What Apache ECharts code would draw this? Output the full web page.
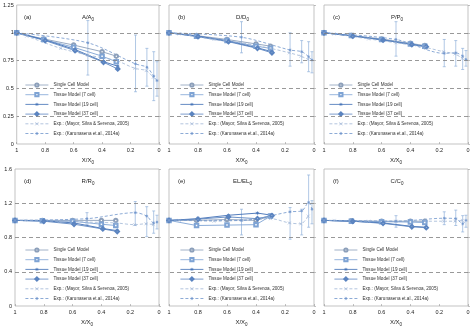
<!DOCTYPE html>
<html>
<head>
<meta charset="utf-8">
<script src="https://cdn.jsdelivr.net/npm/echarts@6/dist/echarts.min.js"></script>
<style>
html, body { margin: 0; padding: 0; background: #fff; }
#main { width: 474px; height: 328px; }
</style>
</head>
<body>
<div id="main"></div>
<script>
// 图例名称
var seriesNames = ['Single Cell Model', 'Tissue Model (7 cell)', 'Tissue Model (19 cell)', 'Tissue Model (37 cell)',
	'Exp.: (Mayor, Silva & Serenoa, 2005)', 'Exp.: (Karunasena et.al., 2014a)'];

// x 坐标 (X/X0)
var modelX = [1, 0.81, 0.6, 0.4, 0.3];
var modelX2 = [1, 0.8, 0.59, 0.39, 0.29];
var mayorX = [1, 0.93, 0.69, 0.5, 0.3, 0.17, 0.09, 0.04];
var karX = [1, 0.5, 0.165, 0.085, 0.037, 0.014];

// (a) A/A0
var aSingle = [1, 0.945, 0.89, 0.83, 0.79];
var aT7 = [1, 0.94, 0.87, 0.79, 0.74];
var aT19 = [1, 0.935, 0.85, 0.74, 0.70];
var aT37 = [1, 0.93, 0.84, 0.735, 0.675];
var aMayor = [1, 0.97, 0.86, 0.8, 0.75, 0.68, 0.66, 0.6];
var aKar = [1, 0.91, 0.72, 0.69, 0.61, 0.57];
var aKarLow = [1, 0.62, 0.47, 0.52, 0.39, 0.43];
var aKarHigh = [1, 1.11, 0.98, 0.86, 0.83, 0.74];

// (b) D/D0
var bSingle = [1, 0.975, 0.94, 0.9, 0.88];
var bT7 = [1, 0.97, 0.93, 0.88, 0.86];
var bT19 = [1, 0.97, 0.925, 0.865, 0.83];
var bT37 = [1, 0.965, 0.92, 0.86, 0.82];
var bMayor = [1, 0.99, 0.94, 0.91, 0.86, 0.82, 0.79, 0.76];
var bKar = [1, 0.96, 0.845, 0.83, 0.785, 0.755];
var bKarLow = [1, 0.82, 0.70, 0.73, 0.65, 0.64];
var bKarHigh = [1, 1.10, 1.0, 0.93, 0.92, 0.83];

// (c) P/P0
var cSingle = [1, 0.975, 0.945, 0.905, 0.885];
var cT7 = [1, 0.975, 0.94, 0.9, 0.88];
var cT19 = [1, 0.972, 0.935, 0.895, 0.875];
var cT37 = [1, 0.97, 0.935, 0.895, 0.875];
var cMayor = [1, 0.99, 0.945, 0.91, 0.87, 0.83, 0.81, 0.77];
var cKar = [1, 0.94, 0.815, 0.82, 0.79, 0.76];
var cKarLow = [1, 0.79, 0.695, 0.70, 0.67, 0.70];
var cKarHigh = [1, 1.10, 0.94, 0.93, 0.86, 0.84];

// (d) R/R0
var dSingle = [1, 1.0, 1.0, 1.0, 1.0];
var dT7 = [1, 0.995, 0.99, 0.955, 0.94];
var dT19 = [1, 0.995, 0.97, 0.905, 0.88];
var dT37 = [1, 0.99, 0.955, 0.9, 0.87];
var dMayor = [1, 1.0, 0.99, 0.98, 0.97, 0.95, 0.96, 0.95];
var dKar = [1, 1.02, 1.09, 1.05, 0.97, 0.98];
var dKarLow = [1, 0.95, 0.94, 0.81, 0.85, 0.90];
var dKarHigh = [1, 1.09, 1.22, 1.16, 1.11, 1.06];

// (e) EL/EL0
var eSingle = [1, 1.0, 1.01, 1.0, 1.05];
var eT7 = [1, 0.94, 0.945, 0.95, 1.05];
var eT19 = [1, 1.02, 1.06, 1.085, 1.06];
var eT37 = [1, 1.015, 1.04, 1.02, 1.055];
var eMayor = [1, 1.0, 0.99, 1.0, 1.02, 0.97, 0.96, 1.05];
var eKar = [1, 1.0, 1.10, 1.11, 1.21, 1.13];
var eKarLow = [1, 0.83, 0.78, 0.83, 0.92, 0.96];
var eKarHigh = [1, 1.13, 1.15, 1.13, 1.53, 1.23];

// (f) C/C0
var fSingle = [1, 0.995, 0.99, 0.99, 0.99];
var fT7 = [1, 0.99, 0.985, 0.98, 0.975];
var fT19 = [1, 0.99, 0.97, 0.93, 0.92];
var fT37 = [1, 0.99, 0.965, 0.925, 0.915];
var fMayor = [1, 1.0, 0.99, 0.99, 0.99, 0.99, 0.99, 1.0];
var fKar = [1, 0.99, 1.025, 1.02, 0.96, 1.0];
var fKarLow = [1, 0.92, 0.95, 0.94, 0.865, 0.92];
var fKarHigh = [1, 1.055, 1.10, 1.12, 1.055, 1.06];

// 虚线网格
var topGridY = [0.25, 0.5, 0.75, 1];
var bottomGridY = [0.4, 0.8, 1.2];

var FONT = '"Liberation Sans", Arial, sans-serif';
var colors = ['#8c9fba', '#7ea3d4', '#3f6eb5', '#5b84c0', '#9fb6d6', '#7096cc'];
var crossPath = 'path://M0,0L10,10M10,0L0,10';
var starPath = 'path://M5,0L5,10M0,5L10,5M1.5,1.5L8.5,8.5M8.5,1.5L1.5,8.5';

// 每个小图的布局
var panels = [
	{ tag: '(a)', v: 'A', grid: { left: 15, top: 5, width: 144, height: 139 }, ymax: 1.25, yint: 0.25, yGrid: topGridY, showY: true, lg: [25, 82],
		d: [aSingle, aT7, aT19, aT37, aMayor, aKar, aKarLow, aKarHigh] },
	{ tag: '(b)', v: 'D', grid: { left: 169, top: 5, width: 145, height: 139 }, ymax: 1.25, yint: 0.25, yGrid: topGridY, showY: false, lg: [180, 82],
		d: [bSingle, bT7, bT19, bT37, bMayor, bKar, bKarLow, bKarHigh] },
	{ tag: '(c)', v: 'P', grid: { left: 324, top: 5, width: 144, height: 139 }, ymax: 1.25, yint: 0.25, yGrid: topGridY, showY: false, lg: [329, 82],
		d: [cSingle, cT7, cT19, cT37, cMayor, cKar, cKarLow, cKarHigh] },
	{ tag: '(d)', v: 'R', grid: { left: 15, top: 169, width: 144, height: 140 }, ymax: 1.6, yint: 0.4, yGrid: bottomGridY, showY: true, lg: [25, 247],
		d: [dSingle, dT7, dT19, dT37, dMayor, dKar, dKarLow, dKarHigh] },
	{ tag: '(e)', v: 'EL', grid: { left: 169, top: 169, width: 145, height: 140 }, ymax: 1.6, yint: 0.4, yGrid: bottomGridY, showY: false, lg: [180, 247],
		d: [eSingle, eT7, eT19, eT37, eMayor, eKar, eKarLow, eKarHigh] },
	{ tag: '(f)', v: 'C', grid: { left: 324, top: 169, width: 144, height: 140 }, ymax: 1.6, yint: 0.4, yGrid: bottomGridY, showY: false, lg: [334, 247],
		d: [fSingle, fT7, fT19, fT37, fMayor, fKar, fKarLow, fKarHigh] }
];

function zip(xs, ys) {
	var out = [];
	for (var i = 0; i < ys.length; i++) out.push([xs[i], ys[i]]);
	return out;
}

var subRich = {
	m: { fontSize: 6, fontWeight: 'normal', fontFamily: FONT, color: '#222' },
	s: { fontSize: 4.5, fontWeight: 'normal', fontFamily: FONT, color: '#222', padding: [4, 0, 0, 0] }
};

var option = { animation: false, grid: [], xAxis: [], yAxis: [], series: [], legend: [], title: [] };

for (var p = 0; p < panels.length; p++) {
	var pn = panels[p];
	var g = pn.grid;
	option.grid.push({ left: g.left, top: g.top, width: g.width, height: g.height, show: true,
		borderColor: '#b4b4b4', borderWidth: 0.8, backgroundColor: 'transparent' });
	option.xAxis.push({
		gridIndex: p, type: 'value', min: 0, max: 1, interval: 0.2, inverse: true,
		name: '{m|X/X}{s|0}', nameLocation: 'middle', nameGap: 12,
		nameTextStyle: { rich: subRich },
		axisLine: { show: false },
		axisTick: { show: true, inside: true, length: 2, lineStyle: { color: '#999', width: 0.6 } },
		axisLabel: { fontSize: 5.5, fontFamily: FONT, color: '#222', margin: 3 },
		splitLine: { show: false }
	});
	option.yAxis.push({
		gridIndex: p, type: 'value', min: 0, max: pn.ymax, interval: pn.yint,
		axisLine: { show: false },
		axisTick: { show: true, inside: true, length: 2, lineStyle: { color: '#999', width: 0.6 } },
		axisLabel: { show: pn.showY, fontSize: 5.5, fontFamily: FONT, color: '#222', margin: 3 },
		splitLine: { show: false }
	});
	// 小图编号 和 标题
	option.title.push({ text: pn.tag, left: g.left + 4, top: g.top + 4,
		textStyle: { fontSize: 6, fontWeight: 'normal', fontFamily: FONT, color: '#222' } });
	option.title.push({ text: '{m|' + pn.v + '/' + pn.v + '}{s|0}', left: g.left + g.width / 2 - 4, top: g.top + 3, textAlign: 'center',
		textStyle: { fontWeight: 'normal', rich: subRich } });
	option.legend.push({
		data: seriesNames, orient: 'vertical', left: pn.lg[0], top: pn.lg[1], padding: 0,
		itemWidth: 23, itemHeight: 4, itemGap: 3.7, selectedMode: false,
		lineStyle: { width: 0.8 },
		itemStyle: { borderWidth: 0.6 },
		textStyle: { fontSize: 4.6, lineHeight: 6, fontFamily: FONT, color: '#333' }
	});

	var d = pn.d;
	var modelData = [zip(modelX, d[0]), zip(modelX, d[1]), zip(modelX2, d[2]), zip(modelX2, d[3])];
	var syms = ['emptyCircle', 'emptyRect', starPath, 'emptyDiamond'];
	for (var k = 0; k < 4; k++) {
		var s = {
			name: seriesNames[k], type: 'line', xAxisIndex: p, yAxisIndex: p,
			data: modelData[k], symbol: syms[k], symbolSize: 3.5,
			lineStyle: { color: colors[k], width: 0.9 },
			itemStyle: { color: colors[k], borderColor: colors[k], borderWidth: 0.7 },
			z: 3
		};
		if (k === 0) {
			s.markLine = {
				silent: true, symbol: ['none', 'none'], label: { show: false },
				lineStyle: { color: '#7f7f7f', type: [4, 3], width: 0.8 },
				data: pn.yGrid.map(function (v) { return { yAxis: v }; })
			};
		}
		option.series.push(s);
	}
	// 实验数据 虚线
	option.series.push({
		name: seriesNames[4], type: 'line', xAxisIndex: p, yAxisIndex: p,
		data: zip(mayorX, d[4]), symbol: crossPath, symbolSize: 3, smooth: 0.3,
		lineStyle: { color: colors[4], width: 0.8, type: [3, 2] },
		itemStyle: { color: colors[4], borderColor: colors[4], borderWidth: 0.6 }
	});
	option.series.push({
		name: seriesNames[5], type: 'line', xAxisIndex: p, yAxisIndex: p,
		data: zip(karX, d[5]), symbol: starPath, symbolSize: 3, smooth: 0.3,
		lineStyle: { color: colors[5], width: 0.8, type: [3, 2] },
		itemStyle: { color: colors[5], borderColor: colors[5], borderWidth: 0.6 }
	});
	// 误差棒
	var errData = [];
	for (var j = 0; j < karX.length; j++) {
		if (d[6][j] !== d[7][j]) errData.push([karX[j], d[6][j], d[7][j]]);
	}
	option.series.push({
		name: 'err', type: 'custom', xAxisIndex: p, yAxisIndex: p, data: errData, silent: true,
		renderItem: function (params, api) {
			var lo = api.coord([api.value(0), api.value(1)]);
			var hi = api.coord([api.value(0), api.value(2)]);
			var st = { stroke: '#8fb0da', lineWidth: 0.7 };
			return { type: 'group', children: [
				{ type: 'line', shape: { x1: lo[0], y1: lo[1], x2: hi[0], y2: hi[1] }, style: st },
				{ type: 'line', shape: { x1: lo[0] - 1.5, y1: lo[1], x2: lo[0] + 1.5, y2: lo[1] }, style: st },
				{ type: 'line', shape: { x1: hi[0] - 1.5, y1: hi[1], x2: hi[0] + 1.5, y2: hi[1] }, style: st }
			] };
		}
	});
}

var chart = echarts.init(document.getElementById('main'));
chart.setOption(option);
</script>
</body>
</html>
